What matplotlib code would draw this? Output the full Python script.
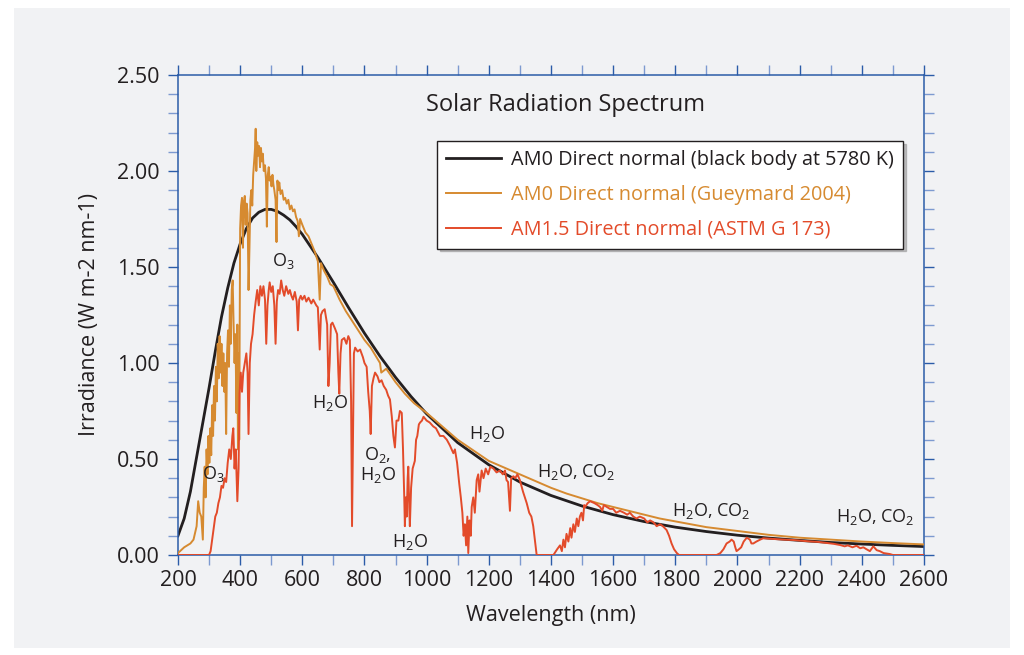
import matplotlib
matplotlib.use("Agg")
import matplotlib.pyplot as plt
from matplotlib.patches import Rectangle
from matplotlib.ticker import MultipleLocator, FormatStrFormatter

plt.rcParams['font.family'] = ['Open Sans', 'DejaVu Sans']
plt.rcParams['mathtext.fontset'] = 'custom'
plt.rcParams['mathtext.rm'] = 'Open Sans'
plt.rcParams['mathtext.it'] = 'Open Sans'

# black body at 5780 K
wl_bb = [200, 220, 240, 260, 280, 300, 320, 340, 360, 380, 400, 420, 440, 460, 480, 500,
         520, 540, 560, 580, 600, 650, 700, 750, 800, 850, 900, 950, 1000, 1100, 1200,
         1300, 1400, 1500, 1600, 1700, 1800, 1900, 2000, 2100, 2200, 2300, 2400, 2500, 2600]
irr_bb = [0.10, 0.19, 0.33, 0.51, 0.69, 0.87, 1.06, 1.24, 1.39, 1.52, 1.62, 1.70, 1.755, 1.785, 1.80, 1.80,
          1.79, 1.77, 1.745, 1.71, 1.67, 1.55, 1.42, 1.285, 1.155, 1.035, 0.925, 0.825, 0.735, 0.585, 0.47,
          0.38, 0.31, 0.255, 0.21, 0.174, 0.145, 0.122, 0.103, 0.088, 0.076, 0.065, 0.057, 0.05, 0.044]

# AM0 Gueymard 2004
wl_am0 = [200, 220, 240, 250, 260, 265, 270, 275, 280, 283, 286, 289, 292, 295, 298, 301,
          304, 307, 310, 313, 316, 319, 322, 325, 328, 331, 334, 337, 340, 343, 346, 349,
          352, 355, 358, 361, 364, 367, 370, 373, 376, 379, 382, 385, 388, 391, 393, 395,
          397, 400, 403, 406, 409, 412, 415, 418, 421, 424, 427, 430, 433, 436, 439, 442,
          445, 448, 450, 452, 455, 458, 461, 464, 467, 470, 473, 476, 480, 483, 486, 489,
          492, 495, 498, 501, 504, 507, 510, 514, 517, 520, 523, 526, 530, 535, 540, 545,
          550, 555, 560, 565, 570, 575, 580, 585, 589, 593, 600, 610, 620, 630, 640, 650,
          656, 660, 670, 680, 690, 700, 720, 740, 760, 780, 800, 820, 850, 854, 870, 900,
          930, 960, 1000, 1050, 1100, 1150, 1200, 1250, 1300, 1350, 1400, 1450, 1500, 1550,
          1600, 1650, 1700, 1750, 1800, 1850, 1900, 1950, 2000, 2100, 2200, 2300, 2400, 2500, 2600]
irr_am0 = [0.01, 0.04, 0.06, 0.08, 0.15, 0.28, 0.22, 0.20, 0.08, 0.35, 0.46, 0.30, 0.55, 0.42, 0.62, 0.48,
           0.66, 0.52, 0.78, 0.62, 0.88, 0.70, 0.98, 0.80, 1.10, 0.92, 1.14, 0.95, 1.10, 0.88, 1.05, 0.85,
           1.00, 0.63, 1.05, 1.17, 0.98, 1.30, 1.10, 1.38, 1.43, 1.20, 1.00, 1.15, 0.74, 1.20, 0.55, 1.05,
           0.60, 1.70, 1.82, 1.86, 1.60, 1.84, 1.87, 1.72, 1.83, 1.78, 1.38, 1.60, 1.85, 1.90, 1.82, 1.98,
           2.05, 2.12, 2.22, 2.00, 2.15, 2.08, 2.13, 2.02, 2.12, 2.05, 2.09, 2.00, 2.03, 1.96, 1.71, 1.98,
           2.02, 1.95, 1.97, 1.92, 1.98, 1.93, 1.90, 1.85, 1.63, 1.95, 1.90, 1.94, 1.88, 1.90, 1.85, 1.86,
           1.83, 1.85, 1.80, 1.82, 1.79, 1.80, 1.76, 1.74, 1.66, 1.75, 1.72, 1.68, 1.66, 1.62, 1.58, 1.53,
           1.33, 1.52, 1.48, 1.45, 1.41, 1.40, 1.33, 1.27, 1.22, 1.17, 1.12, 1.08, 1.00, 0.95, 0.97, 0.90,
           0.84, 0.79, 0.74, 0.67, 0.60, 0.545, 0.49, 0.455, 0.42, 0.385, 0.35, 0.32, 0.295, 0.27,
           0.25, 0.23, 0.21, 0.19, 0.175, 0.16, 0.145, 0.135, 0.125, 0.105, 0.09, 0.08, 0.07, 0.062, 0.055]

# AM1.5 ASTM G 173
wl_am15 = [200, 300, 305, 310, 315, 320, 325, 330, 335, 340, 345, 350, 355, 360, 365, 370,
           375, 378, 382, 386, 391, 395, 398, 402, 406, 410, 415, 420, 424, 427, 431, 435,
           440, 445, 450, 455, 460, 465, 470, 475, 480, 484, 488, 492, 495, 500, 505, 510,
           514, 518, 522, 527, 532, 537, 542, 548, 555, 560, 565, 570, 576, 582, 586, 590,
           595, 600, 607, 613, 620, 629, 635, 645, 650, 656, 660, 665, 672, 680, 684, 688,
           692, 697, 705, 712, 716, 719, 723, 727, 735, 742, 748, 753, 757, 760, 763, 766,
           770, 778, 786, 795, 800, 807, 812, 817, 820, 824, 829, 834, 842, 848, 855, 862,
           870, 876, 882, 888, 893, 898, 903, 909, 914, 920, 924, 928, 930, 933, 936, 939,
           941, 944, 946, 950, 955, 962, 966, 970, 975, 979, 985, 990, 995, 1000, 1010, 1021,
           1030, 1043, 1054, 1065, 1075, 1086, 1091, 1098, 1105, 1110, 1115, 1119, 1123, 1127, 1131, 1134,
           1138, 1142, 1145, 1150, 1155, 1161, 1166, 1170, 1177, 1183, 1190, 1198, 1205, 1215, 1225, 1236,
           1245, 1252, 1257, 1262, 1268, 1272, 1279, 1285, 1292, 1300, 1310, 1316, 1322, 1330, 1337, 1343,
           1348, 1352, 1354, 1408, 1420, 1429, 1435, 1440, 1445, 1450, 1456, 1462, 1466, 1472, 1477, 1483,
           1488, 1493, 1498, 1503, 1507, 1510, 1518, 1526, 1540, 1550, 1558, 1565, 1570, 1580, 1590, 1600,
           1610, 1622, 1635, 1645, 1654, 1665, 1675, 1686, 1700, 1710, 1719, 1730, 1740, 1751, 1760, 1772,
           1780, 1788, 1796, 1805, 1812, 1933, 1945, 1955, 1965, 1975, 1981, 1988, 1993, 1997, 2005, 2012,
           2020, 2030, 2040, 2045, 2051, 2061, 2073, 2083, 2100, 2120, 2150, 2180, 2200, 2230, 2260, 2290,
           2310, 2330, 2345, 2355, 2370, 2383, 2395, 2405, 2415, 2426, 2437, 2448, 2458, 2470, 2490, 2500,
           2600]
irr_am15 = [0.0, 0.0, 0.02, 0.08, 0.14, 0.20, 0.22, 0.27, 0.30, 0.36, 0.35, 0.40, 0.38, 0.48, 0.55, 0.50,
            0.62, 0.66, 0.45, 0.55, 0.28, 0.45, 0.84, 0.95, 0.85, 0.95, 1.00, 1.05, 0.95, 0.63, 1.00, 1.10,
            1.15, 1.25, 1.32, 1.38, 1.30, 1.40, 1.35, 1.40, 1.33, 1.10, 1.30, 1.38, 1.42, 1.37, 1.40, 1.30,
            1.10, 1.32, 1.38, 1.36, 1.43, 1.38, 1.35, 1.40, 1.36, 1.38, 1.35, 1.33, 1.37, 1.32, 1.17, 1.33,
            1.35, 1.33, 1.35, 1.32, 1.34, 1.31, 1.33, 1.30, 1.29, 1.07, 1.25, 1.27, 1.28, 1.20, 0.88, 1.00,
            1.20, 1.21, 1.18, 1.15, 0.95, 0.84, 1.05, 1.12, 1.13, 1.10, 1.14, 1.12, 0.80, 0.15, 0.60, 1.05,
            1.08, 1.06, 1.07, 1.03, 1.00, 0.98, 0.85, 0.75, 0.63, 0.88, 0.92, 0.95, 0.93, 0.90, 0.91, 0.88,
            0.86, 0.83, 0.81, 0.72, 0.62, 0.56, 0.70, 0.70, 0.75, 0.74, 0.55, 0.30, 0.15, 0.30, 0.20, 0.40,
            0.46, 0.25, 0.15, 0.35, 0.45, 0.49, 0.60, 0.62, 0.68, 0.69, 0.70, 0.72, 0.71, 0.70, 0.69, 0.67,
            0.66, 0.62, 0.62, 0.60, 0.57, 0.53, 0.55, 0.48, 0.37, 0.30, 0.22, 0.10, 0.16, 0.05, 0.20, 0.01,
            0.18, 0.10, 0.25, 0.30, 0.22, 0.39, 0.42, 0.33, 0.44, 0.40, 0.45, 0.42, 0.46, 0.45, 0.43, 0.44,
            0.42, 0.44, 0.39, 0.38, 0.23, 0.40, 0.41, 0.40, 0.42, 0.39, 0.33, 0.30, 0.27, 0.22, 0.20, 0.15,
            0.08, 0.02, 0.0, 0.0, 0.03, 0.05, 0.02, 0.08, 0.04, 0.11, 0.07, 0.14, 0.09, 0.16, 0.12, 0.19,
            0.15, 0.20, 0.22, 0.18, 0.26, 0.25, 0.27, 0.28, 0.27, 0.26, 0.25, 0.23, 0.26, 0.25, 0.24, 0.24,
            0.22, 0.23, 0.22, 0.21, 0.22, 0.20, 0.19, 0.20, 0.19, 0.17, 0.18, 0.17, 0.15, 0.16, 0.15, 0.13,
            0.10, 0.06, 0.03, 0.01, 0.0, 0.0, 0.01, 0.03, 0.06, 0.07, 0.08, 0.07, 0.04, 0.02, 0.03, 0.04,
            0.07, 0.09, 0.08, 0.06, 0.06, 0.07, 0.08, 0.087, 0.085, 0.083, 0.08, 0.078, 0.075, 0.071, 0.068, 0.062,
            0.058, 0.052, 0.045, 0.05, 0.04, 0.048, 0.035, 0.04, 0.03, 0.02, 0.045, 0.025, 0.02, 0.01, 0.005, 0.0,
            0.0]

labels = ['AM0 Direct normal (black body at 5780 K)',
          'AM0 Direct normal (Gueymard 2004)',
          'AM1.5 Direct normal (ASTM G 173)']

# absorption band labels: text, wavelength, irradiance
bands = [(r'O$_3$', 538, 1.53), (r'O$_3$', 315, 0.42), (r'H$_2$O', 690, 0.79),
         ('O$_2$,\nH$_2$O', 843, 0.47), (r'H$_2$O', 946, 0.07), (r'H$_2$O', 1195, 0.63),
         (r'H$_2$O, CO$_2$', 1482, 0.43), (r'H$_2$O, CO$_2$', 1915, 0.23),
         (r'H$_2$O, CO$_2$', 2444, 0.20)]

BG = '#f1f2f4'
BLUE = '#2b5ca8'
TXT = '#231f20'
c_bb, c_am0, c_am15 = '#231f20', '#d68a30', '#e34b2a'

fig = plt.figure(figsize=(10.24, 6.55), dpi=100, facecolor='white')
fig.patches.append(Rectangle((0.0137, 0.0107), 0.9727, 0.977, transform=fig.transFigure,
                             facecolor=BG, edgecolor='none', zorder=-10))
ax = fig.add_axes([0.1738, 0.1527, 0.7285, 0.7328])
ax.set_facecolor(BG)

ax.plot(wl_bb, irr_bb, color=c_bb, lw=2.0, label=labels[0], zorder=2)
ax.plot(wl_am0, irr_am0, color=c_am0, lw=1.4, label=labels[1], zorder=3)
ax.plot(wl_am15, irr_am15, color=c_am15, lw=1.4, label=labels[2], zorder=4)

ax.set_xlim(200, 2600)
ax.set_ylim(0, 2.5)
ax.xaxis.set_major_locator(MultipleLocator(200))
ax.xaxis.set_minor_locator(MultipleLocator(100))
ax.yaxis.set_major_locator(MultipleLocator(0.5))
ax.yaxis.set_minor_locator(MultipleLocator(0.1))
ax.yaxis.set_major_formatter(FormatStrFormatter('%.2f'))

for s in ax.spines.values():
    s.set_color(BLUE)
    s.set_linewidth(1.1)
ax.tick_params(which='both', direction='out', top=True, right=True, length=7, width=1.0,
               labelsize=15.5, labelcolor=TXT)
ax.tick_params(which='major', color=BLUE)
ax.tick_params(which='minor', color='#7d9ad0')
ax.tick_params(axis='x', pad=4)
ax.tick_params(axis='y', pad=6)

ax.set_xlabel('Wavelength (nm)', fontsize=15.5, color=TXT, labelpad=10)
ax.set_ylabel('Irradiance (W m-2 nm-1)', fontsize=15.5, color=TXT, labelpad=12)
ax.text(0.52, 0.9375, 'Solar Radiation Spectrum', transform=ax.transAxes, ha='center',
        va='center', fontsize=17, color=TXT)

for txt, x, y in bands:
    ax.text(x, y, txt, ha='center', va='center', fontsize=13, color=TXT, zorder=5,
            linespacing=1.0)

leg = ax.legend(loc='upper right', bbox_to_anchor=(0.972, 0.8625), fontsize=14.3,
                frameon=True, fancybox=False, shadow={'color': '0.6', 'alpha': 0.6},
                handlelength=2.8, handletextpad=0.5, labelspacing=0.75, borderpad=0.45,
                borderaxespad=0.0)
leg.get_frame().set_edgecolor(TXT)
leg.get_frame().set_facecolor('white')
leg.get_frame().set_linewidth(1.0)
for t, c in zip(leg.get_texts(), [c_bb, c_am0, c_am15]):
    t.set_color(c)

fig.savefig('out.png', dpi=100, facecolor='white')
